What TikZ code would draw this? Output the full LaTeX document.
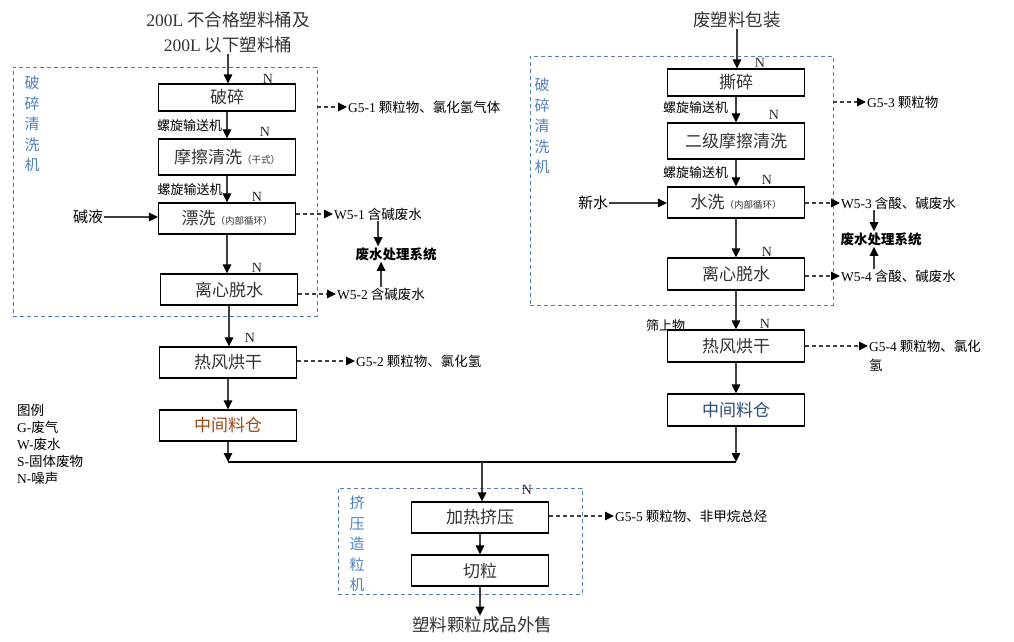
\documentclass[tikz,border=0pt]{standalone}
\usepackage{fontspec}
\setmainfont{Noto Sans CJK SC}
\newfontfamily\lat{Liberation Serif}
\usetikzlibrary{arrows.meta,calc}
\definecolor{grpblue}{HTML}{4F81BD}
\definecolor{txt}{HTML}{333333}
\definecolor{dgray}{HTML}{404040}
\definecolor{orng}{HTML}{9C4A16}
\definecolor{bluet}{HTML}{2A4A7A}
\newcommand\smtxt[1]{{\fontsize{9.5}{11}\selectfont #1}}
\tikzset{
 box/.style={draw=black, line width=1.2pt, minimum width=137pt, inner sep=0pt, text=txt, font=\fontsize{17}{20}\selectfont},
 grp/.style={draw=grpblue, line width=0.9pt, dash pattern=on 4pt off 3pt, inner sep=0pt},
 arr/.style={draw=dgray, line width=1.3pt, -{Triangle[length=9pt,width=8.5pt,color=black]}},
 darr/.style={draw=dgray, line width=1.3pt, dash pattern=on 4pt off 3pt, -{Triangle[length=9pt,width=8.5pt,color=black]}},
 lbl/.style={font=\fontsize{13.5}{16}\selectfont, inner sep=1pt},
 slbl/.style={font=\fontsize{13}{16}\selectfont, inner sep=1pt},
 side/.style={font=\fontsize{15}{18}\selectfont, inner sep=1pt},
 nlbl/.style={font=\lat\fontsize{14}{16}\selectfont, inner sep=0pt, text=black!85},
 vlbl/.style={text=grpblue, font=\fontsize{15}{20.5}\selectfont, align=center, inner sep=0pt},
 ttl/.style={font=\fontsize{17.5}{25}\selectfont, align=center, inner sep=1pt, text=txt},
 bold/.style={font=\bfseries\fontsize{13.5}{16}\selectfont, inner sep=1pt},
}
\begin{document}
\begin{tikzpicture}[x=1pt,y=-1pt]
\useasboundingbox (0,0) rectangle (1014,641);

% group boxes
\node[grp, minimum width=304pt, minimum height=249pt] (bx1) at (165,191.5) {};
\node[grp, minimum width=303pt, minimum height=249pt] (bx2) at (681.5,180.5) {};
\node[grp, minimum width=244pt, minimum height=106pt] (bx3) at (460,541) {};

\node[vlbl] (v1) at (32,124) {破\\碎\\清\\洗\\机};
\node[vlbl] (v2) at (542,126) {破\\碎\\清\\洗\\机};
\node[vlbl] (v3) at (357,544) {挤\\压\\造\\粒\\机};

% titles
\node[ttl] (t1) at (228,32.5) {{\lat 200L} 不合格塑料桶及\\{\lat 200L} 以下塑料桶};
\node[ttl] (t2) at (737,20) {废塑料包装};
\node[ttl] (t3) at (482,625) {塑料颗粒成品外售};

% left column
\node[box, minimum height=27pt] (pc) at (227,97.5) {破碎};
\node[box, minimum height=36pt] (mc) at (227,157) {摩擦清洗\smtxt{（干式）}};
\node[box, minimum height=31pt] (px) at (227,218.5) {漂洗\smtxt{（内部循环）}};
\node[box, minimum height=31pt] (lx1) at (229,289.5) {离心脱水};
\node[box, minimum height=31pt] (rf1) at (228,362.5) {热风烘干};
\node[box, minimum height=31pt, text=orng] (zj1) at (228,425.5) {中间料仓};

% right column
\node[box, minimum height=27pt] (sc) at (736,82.5) {撕碎};
\node[box, minimum height=36pt] (ej) at (736,141) {二级摩擦清洗};
\node[box, minimum height=31pt] (sx) at (736,202.5) {水洗\smtxt{（内部循环）}};
\node[box, minimum height=32pt] (lx2) at (736,274) {离心脱水};
\node[box, minimum height=32pt] (rf2) at (736,346) {热风烘干};
\node[box, minimum height=32pt, text=bluet] (zj2) at (736,410) {中间料仓};

% bottom
\node[box, minimum height=31pt] (jr) at (480,517.5) {加热挤压};
\node[box, minimum height=31pt] (ql) at (480,570.5) {切粒};

% conveyor labels
\node[slbl] (s1) at (189.5,126) {螺旋输送机};
\node[slbl] (s2) at (190,190) {螺旋输送机};
\node[slbl] (s3) at (695.5,108) {螺旋输送机};
\node[slbl] (s4) at (695.5,173) {螺旋输送机};
\node[slbl] (sy) at (665.5,326) {筛上物};

% N labels
\node[nlbl] (n1) at (268,79) {N};
\node[nlbl] (n2) at (265,132) {N};
\node[nlbl] (n3) at (257,197) {N};
\node[nlbl] (n4) at (257,268) {N};
\node[nlbl] (n5) at (250,338) {N};
\node[nlbl] (n6) at (760,63) {N};
\node[nlbl] (n7) at (774,115) {N};
\node[nlbl] (n8) at (767,180) {N};
\node[nlbl] (n9) at (767,252) {N};
\node[nlbl] (n10) at (765,324) {N};
\node[nlbl] (n11) at (527,490) {N};

% side inputs
\node[side] (jy) at (88,217) {碱液};
\node[side] (xs) at (593,203) {新水};

% emissions
\node[lbl, anchor=west] (g51) at (347,107) {{\lat G5-1} 颗粒物、氯化氢气体};
\node[lbl, anchor=west] (w51) at (333,214) {{\lat W5-1} 含碱废水};
\node[lbl, anchor=west] (w52) at (336,294) {{\lat W5-2} 含碱废水};
\node[bold] (fs1) at (396,254) {废水处理系统};
\node[lbl, anchor=west] (g52) at (355,361) {{\lat G5-2} 颗粒物、氯化氢};

\node[lbl, anchor=west] (g53) at (866,102) {{\lat G5-3} 颗粒物};
\node[lbl, anchor=west] (w53) at (840,203) {{\lat W5-3} 含酸、碱废水};
\node[lbl, anchor=west] (w54) at (840,276) {{\lat W5-4} 含酸、碱废水};
\node[bold] (fs2) at (881,239) {废水处理系统};
\node[lbl, anchor=west] (g54) at (868,346) {{\lat G5-4} 颗粒物、氯化};
\node[lbl, anchor=north west] (g54b) at ([yshift=-4pt]g54.south west) {氢};
\node[lbl, anchor=west] (g55) at (614,516) {{\lat G5-5} 颗粒物、非甲烷总烃};

% legend
\node[lbl, anchor=north west, align=left, font=\fontsize{13.5}{17}\selectfont] (lg) at (16,403) {图例\\{\lat G-}废气\\{\lat W-}废水\\{\lat S-}固体废物\\{\lat N-}噪声};

% main flow arrows left
\draw[arr] (t1.south) -- (t1.south |- pc.north);
\draw[arr] (pc.south) -- (mc.north);
\draw[arr] (mc.south) -- (px.north);
\draw[arr] (px.south) -- (px.south |- lx1.north);
\draw[arr] (lx1.south) -- (lx1.south |- rf1.north);
\draw[arr] (rf1.south) -- (zj1.north);

% main flow arrows right
\draw[arr] (t2.south) -- (t2.south |- sc.north);
\draw[arr] (sc.south) -- (ej.north);
\draw[arr] (ej.south) -- (sx.north);
\draw[arr] (sx.south) -- (lx2.north);
\draw[arr] (lx2.south) -- (rf2.north);
\draw[arr] (rf2.south) -- (zj2.north);

% merge
\coordinate (mL) at (228,462);
\coordinate (mR) at (736,462);
\coordinate (mC) at (482,462);
\draw[arr] (zj1.south) -- (mL);
\draw[arr] (zj2.south) -- (mR);
\draw[draw=black, line width=1.3pt] (mL) -- (mR);
\draw[arr] (mC) -- (mC |- jr.north);
\draw[arr] (jr.south) -- (ql.north);
\draw[arr] (ql.south) -- (ql.south |- t3.north);

% side input arrows
\draw[arr] (jy.east) -- (jy.east -| px.west);
\draw[arr] (xs.east) -- (xs.east -| sx.west);

% dashed emission arrows
\draw[darr] (g51.west -| bx1.east) -- (g51.west);
\draw[darr] (w51.west -| px.east) -- (w51.west);
\draw[darr] (w52.west -| lx1.east) -- (w52.west);
\draw[darr] (g52.west -| rf1.east) -- (g52.west);
\draw[darr] (g53.west -| bx2.east) -- (g53.west);
\draw[darr] (w53.west -| sx.east) -- (w53.west);
\draw[darr] (w54.west -| lx2.east) -- (w54.west);
\draw[darr] (g54.west -| rf2.east) -- (g54.west);
\draw[darr] (g55.west -| jr.east) -- (g55.west);

% to wastewater treatment
\draw[arr] (w51.south) -- (w51.south |- fs1.north);
\draw[arr] (w52.north) -- (w52.north |- fs1.south);
\coordinate (a53) at ([xshift=34pt]w53.south west);
\coordinate (a54) at ([xshift=34pt]w54.north west);
\draw[arr] (a53) -- (a53 |- fs2.north);
\draw[arr] (a54) -- (a54 |- fs2.south);
\end{tikzpicture}
\end{document}
